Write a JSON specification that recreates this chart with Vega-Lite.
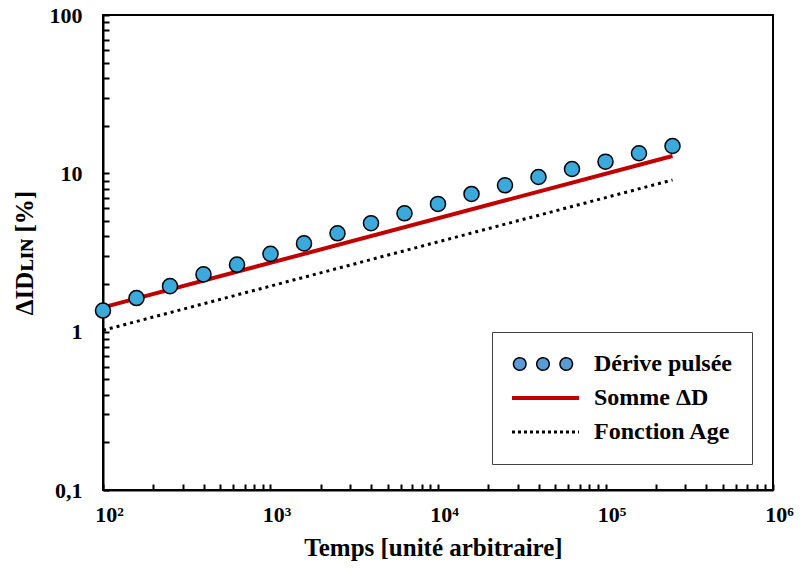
{
  "$schema": "https://vega.github.io/schema/vega-lite/v6.json",
  "width": 670,
  "height": 475,
  "autosize": "none",
  "padding": {"left": 103, "top": 15, "right": 32, "bottom": 79},
  "background": "white",
  "config": {
    "view": {"stroke": "black", "strokeWidth": 2},
    "font": "Liberation Serif",
    "axis": {
      "grid": false,
      "domainColor": "black",
      "domainWidth": 2,
      "ticks": true,
      "tickColor": "black",
      "tickWidth": 2,
      "tickOpacity": 1,
      "labelFont": "Liberation Serif",
      "labelFontSize": 22,
      "labelFontWeight": "bold",
      "labelColor": "black",
      "labelFlush": false,
      "labelOverlap": false,
      "labelBound": false,
      "titleFont": "Liberation Serif",
      "titleFontSize": 25,
      "titleFontWeight": "bold",
      "titleColor": "black"
    }
  },
  "datasets": {
    "points": [
      {"temps": 100, "val": 1.36, "serie": "Dérive pulsée"},
      {"temps": 158.5, "val": 1.63, "serie": "Dérive pulsée"},
      {"temps": 251.2, "val": 1.94, "serie": "Dérive pulsée"},
      {"temps": 398.1, "val": 2.30, "serie": "Dérive pulsée"},
      {"temps": 631, "val": 2.65, "serie": "Dérive pulsée"},
      {"temps": 1000, "val": 3.10, "serie": "Dérive pulsée"},
      {"temps": 1585, "val": 3.61, "serie": "Dérive pulsée"},
      {"temps": 2512, "val": 4.18, "serie": "Dérive pulsée"},
      {"temps": 3981, "val": 4.84, "serie": "Dérive pulsée"},
      {"temps": 6310, "val": 5.59, "serie": "Dérive pulsée"},
      {"temps": 10000, "val": 6.41, "serie": "Dérive pulsée"},
      {"temps": 15850, "val": 7.41, "serie": "Dérive pulsée"},
      {"temps": 25120, "val": 8.40, "serie": "Dérive pulsée"},
      {"temps": 39810, "val": 9.48, "serie": "Dérive pulsée"},
      {"temps": 63100, "val": 10.65, "serie": "Dérive pulsée"},
      {"temps": 100000, "val": 11.85, "serie": "Dérive pulsée"},
      {"temps": 158500, "val": 13.39, "serie": "Dérive pulsée"},
      {"temps": 251200, "val": 14.88, "serie": "Dérive pulsée"}
    ],
    "somme": [
      {"temps": 100, "val": 1.425, "serie": "Somme ΔD"},
      {"temps": 251200, "val": 12.87, "serie": "Somme ΔD"}
    ],
    "age": [
      {"temps": 100, "val": 1.02, "serie": "Fonction Age"},
      {"temps": 251200, "val": 9.08, "serie": "Fonction Age"}
    ]
  },
  "encoding": {
    "x": {
      "field": "temps",
      "type": "quantitative",
      "scale": {"type": "log", "domain": [100, 1000000], "nice": false},
      "axis": {
        "title": "Temps [unité arbitraire]",
        "titlePadding": 10,
        "titleX": 330,
        "tickSize": -6,
        "values": [100, 200, 300, 400, 500, 600, 700, 800, 900, 1000, 2000, 3000, 4000, 5000, 6000, 7000, 8000, 9000, 10000, 20000, 30000, 40000, 50000, 60000, 70000, 80000, 90000, 100000, 200000, 300000, 400000, 500000, 600000, 700000, 800000, 900000, 1000000],
        "labelExpr": "datum.value == 100 ? '10²' : datum.value == 1000 ? '10³' : datum.value == 10000 ? '10⁴' : datum.value == 100000 ? '10⁵' : datum.value == 1000000 ? '10⁶' : ''",
        "labelPadding": 20,
        "labelOffset": 6
      }
    },
    "y": {
      "field": "val",
      "type": "quantitative",
      "scale": {"type": "log", "domain": [0.1, 100], "nice": false},
      "axis": {
        "title": "ΔIDʟɪɴ [%]",
        "titlePadding": 12,
        "tickSize": -6,
        "values": [0.1, 0.2, 0.3, 0.4, 0.5, 0.6, 0.7, 0.8, 0.9, 1, 2, 3, 4, 5, 6, 7, 8, 9, 10, 20, 30, 40, 50, 60, 70, 80, 90, 100],
        "labelExpr": "datum.value == 0.1 ? '0,1' : datum.value == 1 ? '1' : datum.value == 10 ? '10' : datum.value == 100 ? '100' : ''",
        "labelPadding": 27
      }
    },
    "stroke": {
      "field": "serie",
      "type": "nominal",
      "scale": {"domain": ["Dérive pulsée", "Somme ΔD", "Fonction Age"], "range": ["black", "#c00000", "black"]},
      "legend": {
        "title": null,
        "orient": "none",
        "legendX": 389,
        "legendY": 317,
        "padding": 20,
        "strokeColor": "#404040",
        "fillColor": "white",
        "rowPadding": 10,
        "labelFont": "Liberation Serif",
        "labelFontSize": 24,
        "labelFontWeight": "bold",
        "labelColor": "black",
        "labelOffset": 58,
        "symbolSize": 100,
        "encode": {
          "symbols": {
            "update": {
              "shape": {"signal": "datum.value === 'Dérive pulsée' ? 'M-2.1,0A1.25,1.25 0 1,0 0.4,0A1.25,1.25 0 1,0 -2.1,0Z M2.55,0A1.25,1.25 0 1,0 5.05,0A1.25,1.25 0 1,0 2.55,0Z M7.2,0A1.25,1.25 0 1,0 9.7,0A1.25,1.25 0 1,0 7.2,0Z' : 'M-2.4,0H11'"},
              "fill": {"signal": "datum.value === 'Dérive pulsée' ? '#5b9bd5' : 'transparent'"},
              "strokeWidth": {"signal": "datum.value === 'Dérive pulsée' ? 1.5 : datum.value === 'Somme ΔD' ? 4 : 3"},
              "strokeDash": {"signal": "datum.value === 'Fonction Age' ? [3, 3] : [1, 0]"},
              "opacity": {"value": 1}
            }
          }
        }
      }
    }
  },
  "layer": [
    {
      "data": {"name": "age"},
      "mark": {"type": "line", "strokeDash": [3, 4], "strokeWidth": 3}
    },
    {
      "data": {"name": "somme"},
      "mark": {"type": "line", "strokeWidth": 4}
    },
    {
      "data": {"name": "points"},
      "mark": {"type": "circle", "size": 227, "opacity": 1, "fill": "#3ba9dc", "strokeWidth": 1.5}
    }
  ]
}
